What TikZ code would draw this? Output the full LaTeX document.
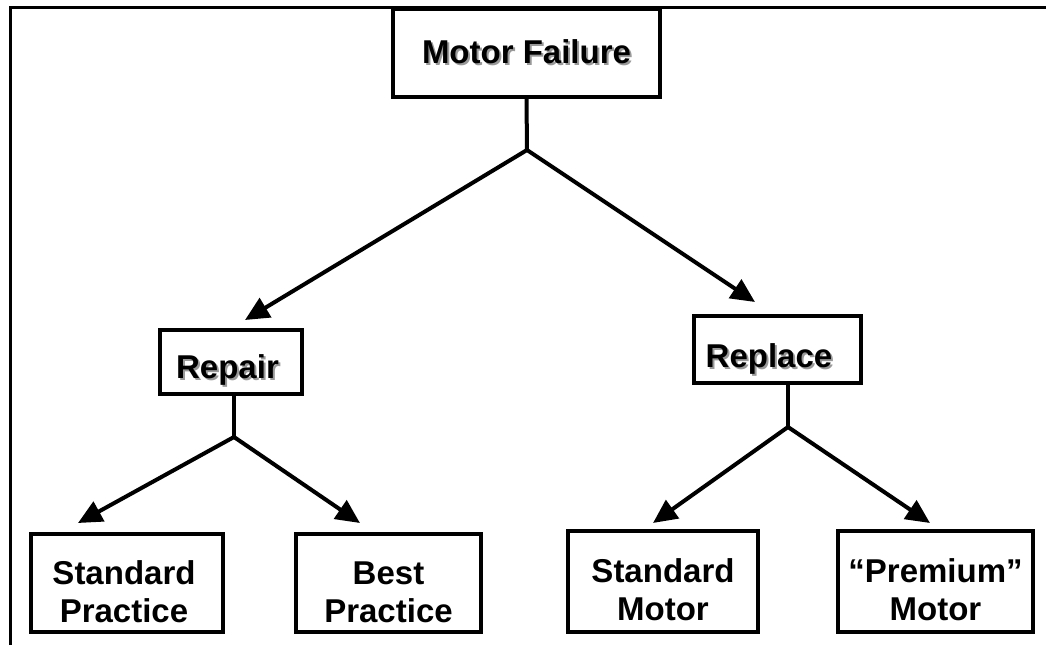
\documentclass[tikz,border=0pt]{standalone}
\usepackage{fontspec}
\setmainfont{Liberation Sans}
\usetikzlibrary{arrows.meta}
\begin{document}
\begin{tikzpicture}[x=1pt,y=-1pt,
  box/.style={draw=black, line width=4pt, fill=white, inner sep=0pt},
  lbl/.style={font=\fontsize{33}{38}\selectfont\bfseries, align=center, inner sep=0pt},
  shadowlbl/.style={lbl, text=black!40},
  conn/.style={line width=4pt},
  arr/.style={line width=4pt, -{Triangle[length=24pt,width=22pt]}}]
\useasboundingbox (0,0) rectangle (1046,645);
% frame
\draw[line width=3pt] (10,645) -- (10,7) -- (1046,7);
% boxes
\node[box, minimum width=267pt, minimum height=88pt] (mf) at (526.5,53) {};
\node[box, minimum width=142pt, minimum height=64pt] (rp) at (231,362) {};
\node[box, minimum width=167pt, minimum height=67pt] (rl) at (777.5,349.5) {};
\node[box, minimum width=192pt, minimum height=98pt] (sp) at (127,583) {};
\node[box, minimum width=185pt, minimum height=98pt] (bp) at (388.5,583) {};
\node[box, minimum width=190pt, minimum height=101pt] (sm) at (663,581.5) {};
\node[box, minimum width=195pt, minimum height=101pt] (pm) at (935.5,581.5) {};
% labels
\node[shadowlbl] (mfs) at (528.5,54) {Motor Failure};
\node[lbl] (mft) at (526.5,52) {Motor Failure};
\node[shadowlbl] (rps) at (229.5,372) {Repair};
\node[lbl] (rpt) at (227.5,370) {Repair};
\node[shadowlbl] (rls) at (771,361) {Replace};
\node[lbl] (rlt) at (769,359) {Replace};
\node[lbl] (spt) at (124,592) {Standard\\Practice};
\node[lbl] (bpt) at (388.5,592) {Best\\Practice};
\node[lbl] (smt) at (663,590) {Standard\\Motor};
\node[lbl] (pmt) at (935.5,590) {``Premium''\\Motor};
% junctions and tips
\coordinate (j0) at (527,150);
\coordinate (j1) at (234,437);
\coordinate (j2) at (788,427);
\coordinate (tRp) at (245,320);
\coordinate (tRl) at (755,302);
\coordinate (tSp) at (78,523);
\coordinate (tBp) at (360,523);
\coordinate (tSm) at (653,523);
\coordinate (tPm) at (930,523);
% connectors
\draw[conn] (mf.south) -- (j0);
\draw[arr] (j0) -- (tRp);
\draw[arr] (j0) -- (tRl);
\draw[conn] (rp.south -| j1) -- (j1);
\draw[arr] (j1) -- (tSp);
\draw[arr] (j1) -- (tBp);
\draw[conn] (rl.south -| j2) -- (j2);
\draw[arr] (j2) -- (tSm);
\draw[arr] (j2) -- (tPm);
\end{tikzpicture}
\end{document}
